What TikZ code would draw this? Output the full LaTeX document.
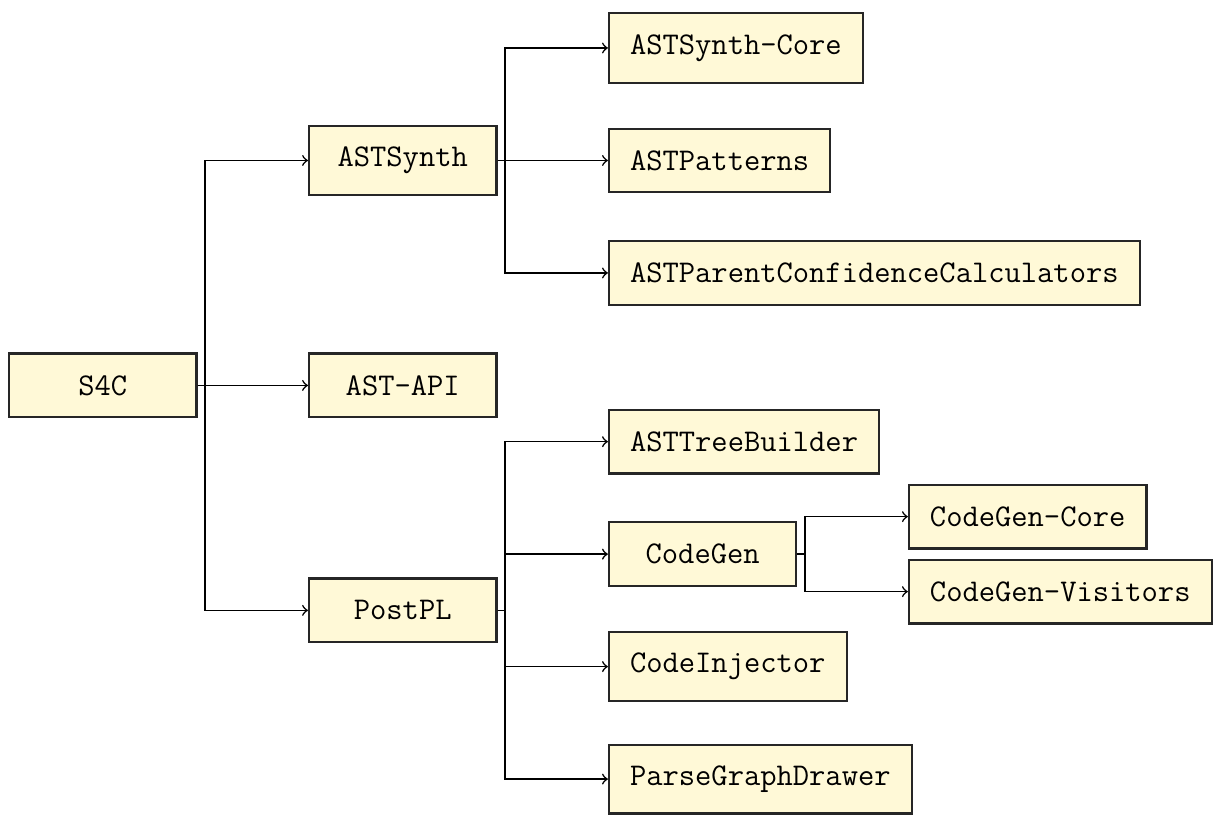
\documentclass[tikz,border=0pt]{standalone}
\usetikzlibrary{arrows}
\definecolor{boxfill}{RGB}{255,249,215}

\begin{document}
\begin{tikzpicture}[>=to, font=\ttfamily\large]
    % Styles
    \tikzstyle{module} = [rectangle, draw=black!85, thick, fill=boxfill, anchor=west, minimum width=2.5cm, minimum height=0.85cm, inner xsep=8pt, inner ysep=8pt]
    \tikzstyle{link} = [->, semithick]

    \useasboundingbox (-0.107,-5.753) rectangle (16.07,5.14);

    % Top level
    \node[module] (s4c) at (0,0) {S4C};
    \node[module] (astsynth) at (4,3) {ASTSynth};
    \node[module] (astapi) at (4,0) {AST-API};
    \node[module] (postpl) at (4,-3) {PostPL};

    % ASTSynth parts
    \node[module] (synthcore) at (8,4.5) {ASTSynth-Core};
    \node[module] (patterns) at (8,3) {ASTPatterns};
    \node[module] (confcalc) at (8,1.5) {ASTParentConfidenceCalculators};

    % PostPL parts
    \node[module] (treebuilder) at (8,-0.75) {ASTTreeBuilder};
    \node[module] (codegen) at (8,-2.25) {CodeGen};
    \node[module] (injector) at (8,-3.75) {CodeInjector};
    \node[module] (graphdrawer) at (8,-5.25) {ParseGraphDrawer};

    % CodeGen parts
    \node[module] (gencore) at (12,-1.75) {CodeGen-Core};
    \node[module] (genvisitors) at (12,-2.75) {CodeGen-Visitors};

    % Links
    \draw[link] (s4c.east) -- ++(0.1,0) |- (astsynth.west);
    \draw[link] (s4c.east) -- (astapi.west);
    \draw[link] (s4c.east) -- ++(0.1,0) |- (postpl.west);

    \draw[link] (astsynth.east) -- ++(0.1,0) |- (synthcore.west);
    \draw[link] (astsynth.east) -- (patterns.west);
    \draw[link] (astsynth.east) -- ++(0.1,0) |- (confcalc.west);

    \draw[link] (postpl.east) -- ++(0.1,0) |- (treebuilder.west);
    \draw[link] (postpl.east) -- ++(0.1,0) |- (codegen.west);
    \draw[link] (postpl.east) -- ++(0.1,0) |- (injector.west);
    \draw[link] (postpl.east) -- ++(0.1,0) |- (graphdrawer.west);

    \draw[link] (codegen.east) -- ++(0.1,0) |- (gencore.west);
    \draw[link] (codegen.east) -- ++(0.1,0) |- (genvisitors.west);
\end{tikzpicture}
\end{document}
